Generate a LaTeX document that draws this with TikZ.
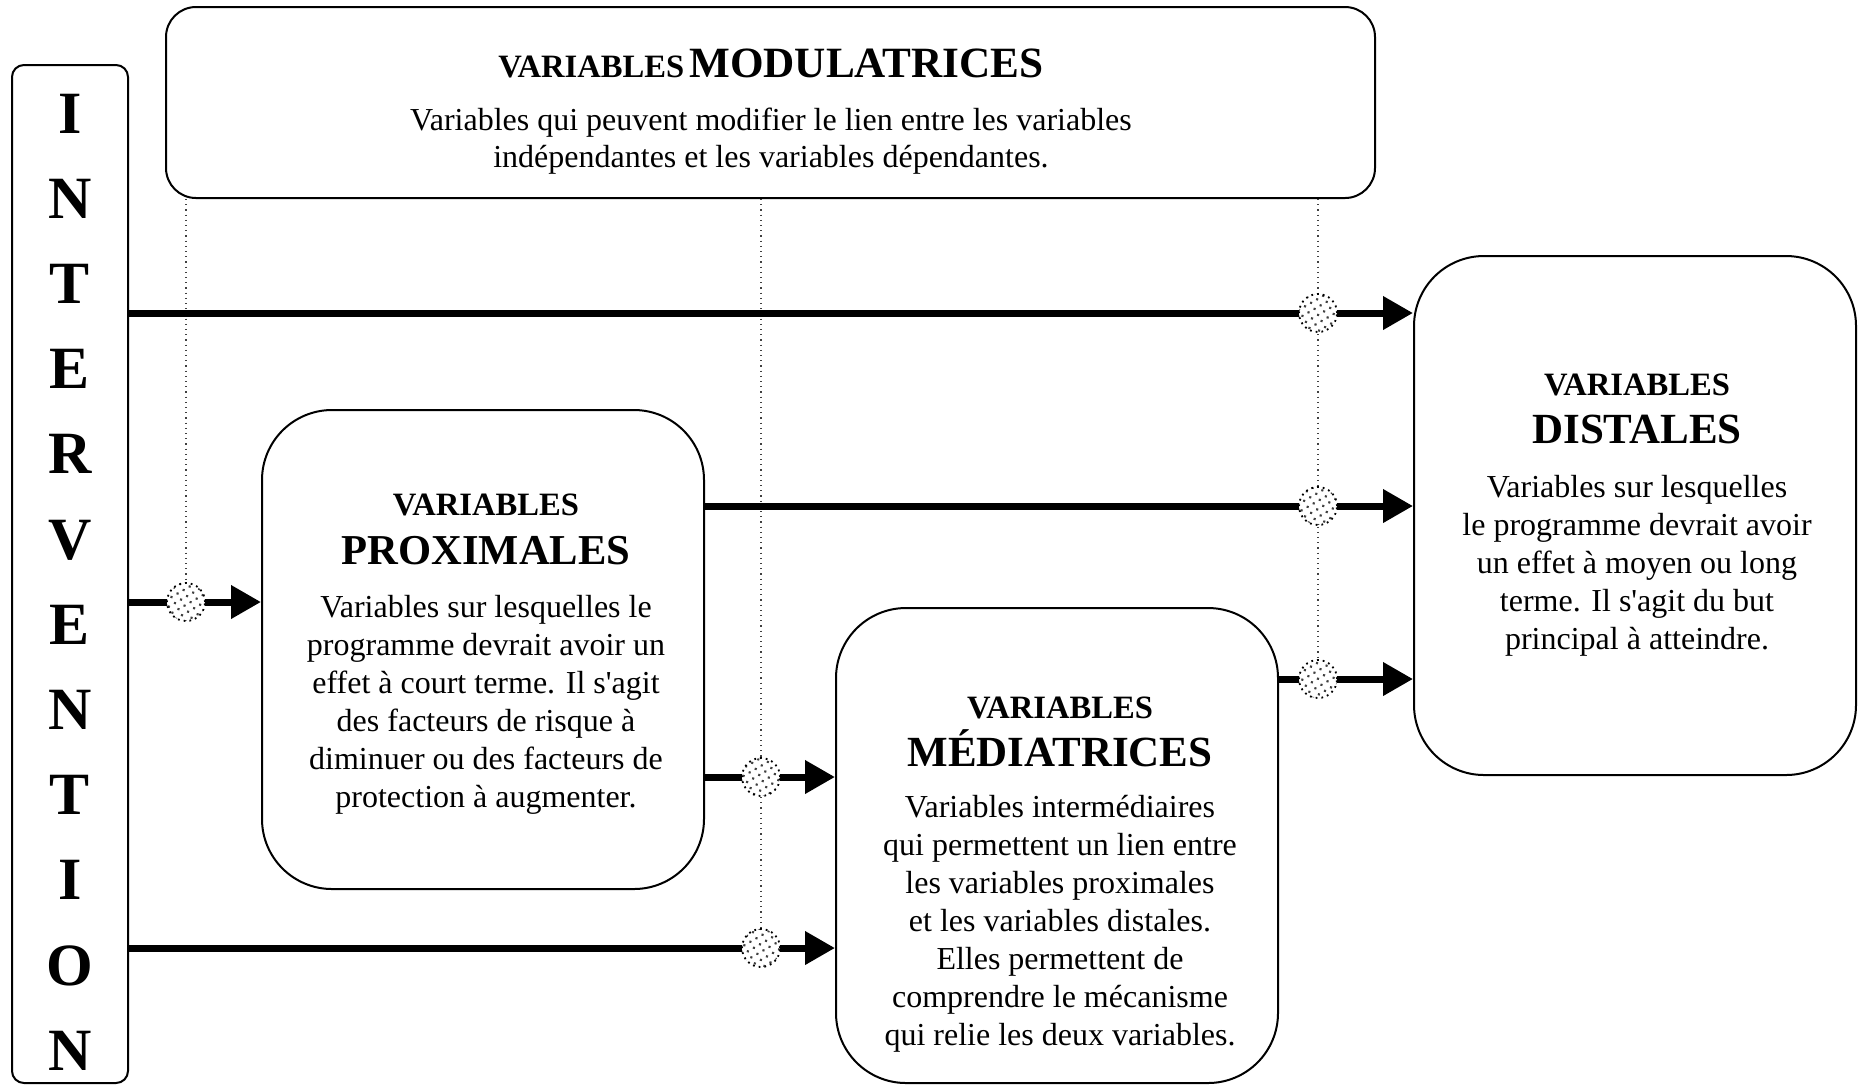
\documentclass[tikz,border=0pt]{standalone}
\usepackage{fontspec}
\setmainfont{Liberation Serif}
\usetikzlibrary{arrows.meta,patterns.meta}
\begin{document}
\begin{tikzpicture}[x=0.5pt,y=-0.5pt,
  box/.style={draw,line width=1pt,inner sep=0pt,rounded corners=35pt},
  body/.style={align=center,inner sep=0pt,font=\fontsize{16}{19}\selectfont},
  small/.style={inner sep=0pt,anchor=base,font=\fontsize{16.3}{18}\selectfont\bfseries},
  big/.style={inner sep=0pt,anchor=base,font=\fontsize{21.5}{24}\selectfont\bfseries},
  arr/.style={line width=3.5pt,-{Triangle[length=15pt,width=16pt]}},
  modline/.style={line width=0.6pt,dotted,black!75},
  circ/.style={circle,draw,dotted,line width=0.9pt,minimum size=19pt,inner sep=0pt,
    preaction={fill=white},pattern={Dots[radius=0.75pt,distance=3.5pt,angle=30]},pattern color=black!75},
  letter/.style={inner sep=0pt,anchor=base,font=\fontsize{30}{34}\selectfont\bfseries}]
\useasboundingbox (0,0) rectangle (1862,1084);

% boxes
\node[box,rounded corners=6pt,minimum width=58pt,minimum height=509pt] (int) at (70,574) {};
\node[box,rounded corners=15pt,minimum width=604.5pt,minimum height=95.5pt] (top) at (770.5,102.5) {};
\node[box,minimum width=221pt,minimum height=239.5pt] (prox) at (483,649.5) {};
\node[box,minimum width=221pt,minimum height=237.5pt] (med) at (1057,845.5) {};
\node[box,minimum width=221pt,minimum height=259.5pt] (dist) at (1635,515.5) {};

% intervention letters
\foreach \l [count=\i from 0] in {I,N,T,E,R,V,E,N,T,I,O,N}{
  \node[letter] (L\i) at (70,{113+85.2*\i+20}) {\l};
}

% top box text
\node[inner sep=0pt,anchor=base] (modt) at (771,77) {{\fontsize{16.3}{18}\selectfont\bfseries VARIABLES} {\fontsize{21.6}{24}\selectfont\bfseries MODULATRICES}};
\node[body,font=\fontsize{16}{18.5}\selectfont] (modb) at (771,141.5) {Variables qui peuvent modifier le lien entre les variables\\indépendantes et les variables dépendantes.};

% proximales text
\node[small] (proxa) at (486,515) {VARIABLES};
\node[big,font=\fontsize{21.3}{24}\selectfont\bfseries] (proxb) at (486,564) {PROXIMALES};
\node[body] (proxc) at (486,704.5) {Variables sur lesquelles le\\programme devrait avoir un\\effet à court terme. Il s\textquotesingle agit\\des facteurs de risque à\\diminuer ou des facteurs de\\protection à augmenter.};

% mediatrices text
\node[small] (meda) at (1060,718) {VARIABLES};
\node[big] (medb) at (1060,766) {MÉDIATRICES};
\node[body] (medc) at (1060,924) {Variables intermédiaires\\qui permettent un lien entre\\les variables proximales\\et les variables distales.\\Elles permettent de\\comprendre le mécanisme\\qui relie les deux variables.};

% distales text
\node[small] (dista) at (1637,395) {VARIABLES};
\node[big] (distb) at (1637,443) {DISTALES};
\node[body] (distc) at (1637,566) {Variables sur lesquelles\\le programme devrait avoir\\un effet à moyen ou long\\terme. Il s\textquotesingle agit du but\\principal à atteindre.};

% modulator junctions
\coordinate (p1) at (1318,313);
\coordinate (p2) at (1318,506);
\coordinate (p3) at (1318,679);
\coordinate (p4) at (186,602);
\coordinate (p5) at (761,777);
\coordinate (p6) at (761,948);

% dotted modulator lines
\draw[modline] (top.south -| p4) -- (p4);
\draw[modline] (top.south -| p6) -- (p6);
\draw[modline] (top.south -| p3) -- (p3);

% arrows
\draw[arr] (int.east |- p1) -- (dist.west |- p1);
\draw[arr] (prox.east |- p2) -- (dist.west |- p2);
\draw[arr] (med.east |- p3) -- (dist.west |- p3);
\draw[arr] (int.east |- p4) -- (prox.west |- p4);
\draw[arr] (prox.east |- p5) -- (med.west |- p5);
\draw[arr] (int.east |- p6) -- (med.west |- p6);

% junction circles
\foreach \k in {1,...,6}{
  \node[circ] (c\k) at (p\k) {};
}
\end{tikzpicture}
\end{document}
